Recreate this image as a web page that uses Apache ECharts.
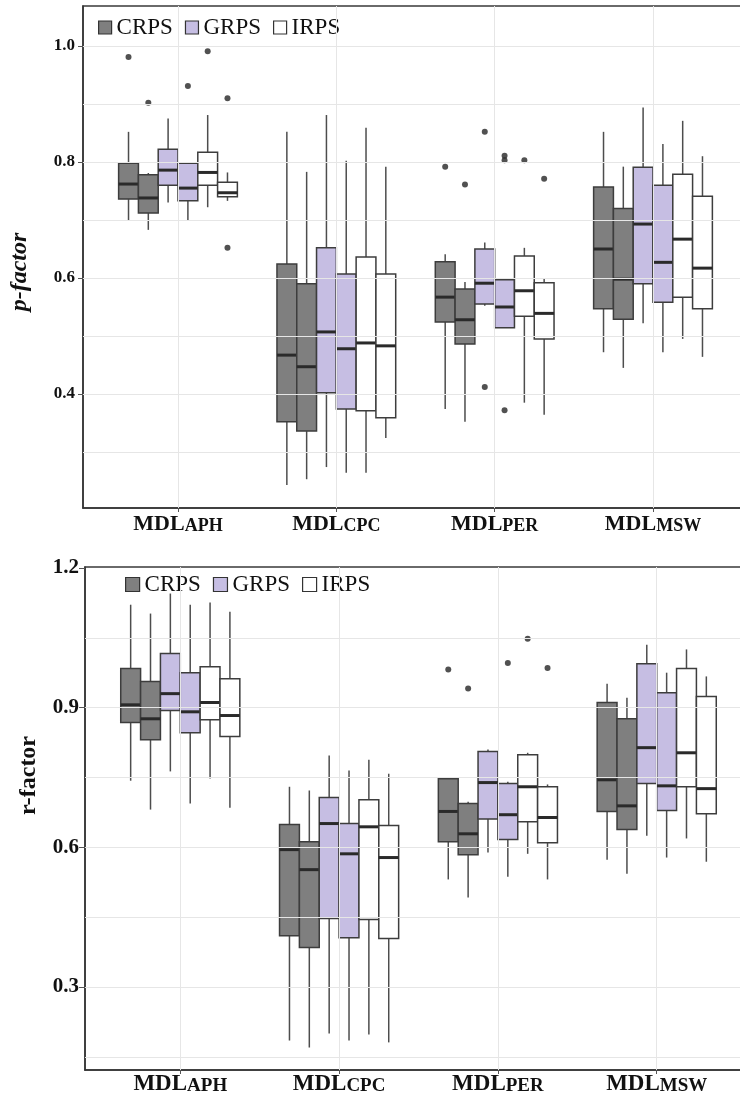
<!DOCTYPE html>
<html><head><meta charset="utf-8">
<script src="https://cdn.jsdelivr.net/npm/echarts@6/dist/echarts.min.js"></script>
<style>html,body{margin:0;padding:0;background:#fff}#c{width:740px;height:1099px}</style>
</head><body><div id="c"></div>
<script>
// ---------------- DATA ----------------
const categories = ['APH', 'CPC', 'PER', 'MSW'];
const schemes = ['CRPS', 'GRPS', 'IRPS'];

// p-factor box statistics per category: [lower whisker, Q1, median, Q3, upper whisker]
const pCRPS1 = [[0.700,0.736,0.762,0.798,0.852],[0.243,0.352,0.467,0.624,0.852],[0.374,0.524,0.567,0.628,0.641],[0.472,0.547,0.650,0.757,0.852]];
const pCRPS2 = [[0.683,0.712,0.738,0.778,0.781],[0.253,0.336,0.447,0.590,0.783],[0.352,0.486,0.528,0.581,0.593],[0.445,0.529,0.598,0.720,0.792]];
const pGRPS1 = [[0.730,0.760,0.786,0.822,0.875],[0.274,0.402,0.507,0.652,0.881],[0.552,0.555,0.591,0.650,0.661],[0.522,0.590,0.693,0.791,0.894]];
const pGRPS2 = [[0.700,0.733,0.755,0.798,0.800],[0.264,0.374,0.478,0.607,0.802],[0.514,0.514,0.550,0.597,0.600],[0.472,0.558,0.627,0.760,0.831]];
const pIRPS1 = [[0.722,0.760,0.782,0.817,0.881],[0.264,0.371,0.488,0.636,0.859],[0.385,0.534,0.578,0.638,0.652],[0.495,0.567,0.667,0.779,0.871]];
const pIRPS2 = [[0.733,0.740,0.747,0.765,0.782],[0.324,0.359,0.483,0.607,0.792],[0.364,0.495,0.539,0.592,0.600],[0.464,0.547,0.617,0.741,0.810]];
// p-factor outliers: [category index, box index (0..5), value]
const pOutliers = [[0,0,0.981],[0,1,0.902],[0,3,0.931],[0,4,0.991],[0,5,0.910],[0,5,0.652],
  [2,0,0.792],[2,1,0.761],[2,2,0.852],[2,2,0.412],[2,3,0.811],[2,3,0.803],[2,3,0.372],[2,4,0.803],[2,5,0.771]];

// r-factor box statistics
const rCRPS1 = [[0.743,0.868,0.906,0.984,1.121],[0.185,0.410,0.595,0.649,0.730],[0.531,0.612,0.677,0.747,0.750],[0.573,0.677,0.745,0.911,0.951]];
const rCRPS2 = [[0.681,0.831,0.876,0.956,1.102],[0.170,0.385,0.552,0.612,0.722],[0.492,0.584,0.629,0.694,0.698],[0.543,0.638,0.689,0.876,0.921]];
const rGRPS1 = [[0.763,0.894,0.930,1.016,1.145],[0.200,0.447,0.651,0.707,0.797],[0.589,0.661,0.739,0.806,0.810],[0.625,0.737,0.814,0.994,1.035]];
const rGRPS2 = [[0.694,0.846,0.891,0.975,1.121],[0.185,0.406,0.586,0.651,0.765],[0.537,0.617,0.670,0.737,0.741],[0.578,0.679,0.732,0.932,0.975]];
const rIRPS1 = [[0.748,0.874,0.911,0.988,1.126],[0.198,0.445,0.644,0.702,0.788],[0.586,0.655,0.730,0.799,0.803],[0.619,0.730,0.803,0.984,1.025]];
const rIRPS2 = [[0.685,0.838,0.883,0.962,1.106],[0.181,0.404,0.578,0.647,0.758],[0.531,0.610,0.664,0.730,0.735],[0.569,0.672,0.726,0.924,0.967]];
const rOutliers = [[2,0,0.982],[2,1,0.941],[2,3,0.996],[2,4,1.048],[2,5,0.985]];

// axis ticks
const pTicks = [0.4, 0.6, 0.8, 1.0];
const pGrid = [0.3, 0.4, 0.5, 0.6, 0.7, 0.8, 0.9, 1.0];
const rTicks = [0.3, 0.6, 0.9, 1.2];
const rGrid = [0.15, 0.3, 0.45, 0.6, 0.75, 0.9, 1.05];

// ---------------- STYLE / LAYOUT ----------------
const SERIF = '"Liberation Serif", "DejaVu Serif", serif';
const schemeColors = ['#7f7f7f', '#c6bee3', '#ffffff'];
const BOX_W = 0.125;     // dodge width per box (category units)
const CAT0 = 0.6;        // ggplot-like discrete expansion
const catPos = categories.map((c, i) => i + CAT0);
function boxX(cat, k) { return cat + CAT0 + (k - 2.5) * BOX_W; }

function renderBox(params, api) {
  const x = api.value(0);
  const lo = api.coord([x, api.value(1)]);
  const q1 = api.coord([x, api.value(2)]);
  const md = api.coord([x, api.value(3)]);
  const q3 = api.coord([x, api.value(4)]);
  const hi = api.coord([x, api.value(5)]);
  const w = api.size([BOX_W, 0])[0];
  const cx = lo[0];
  const fill = api.visual('color');
  return {
    type: 'group',
    children: [
      { type: 'line', shape: { x1: cx, y1: hi[1], x2: cx, y2: q3[1] }, style: { stroke: '#4d4d4d', lineWidth: 1.5 } },
      { type: 'line', shape: { x1: cx, y1: q1[1], x2: cx, y2: lo[1] }, style: { stroke: '#4d4d4d', lineWidth: 1.5 } },
      { type: 'rect', shape: { x: cx - w / 2, y: q3[1], width: w, height: q1[1] - q3[1] }, style: { fill: fill, stroke: '#3d3d3d', lineWidth: 1.5 } },
      { type: 'line', shape: { x1: cx - w / 2, y1: md[1], x2: cx + w / 2, y2: md[1] }, style: { stroke: '#2a2a2a', lineWidth: 3 } }
    ]
  };
}

function boxSeries(stats, k, g) {
  const s = Math.floor(k / 2);
  return {
    type: 'custom', name: schemes[s], xAxisIndex: g, yAxisIndex: g, z: 3,
    itemStyle: { color: schemeColors[s] },
    renderItem: renderBox,
    encode: { x: 0, y: [1, 2, 3, 4, 5] },
    data: stats.map((v, i) => [boxX(i, k)].concat(v)),
    silent: true
  };
}
function outlierSeries(list, g) {
  return {
    type: 'scatter', xAxisIndex: g, yAxisIndex: g, z: 4, silent: true,
    symbolSize: 6, itemStyle: { color: '#262626' },
    data: list.map(o => [boxX(o[0], o[1]), o[2]])
  };
}
function gridSeries(hLines, g) {
  return {
    type: 'line', xAxisIndex: g, yAxisIndex: g, z: 1, data: [], silent: true,
    markLine: {
      silent: true, animation: false, symbol: ['none', 'none'],
      label: { show: false }, emphasis: { disabled: true },
      lineStyle: { color: '#e6e6e6', width: 1, type: 'solid' },
      data: catPos.map(v => ({ xAxis: v })).concat(hLines.map(v => ({ yAxis: v })))
    }
  };
}
function xAxis(g, a, b, margin) {
  return {
    type: 'value', gridIndex: g, min: 0, max: 4.2,
    splitLine: { show: false },
    axisLine: { show: true, lineStyle: { color: '#333', width: 1.5 } },
    axisTick: { show: true, customValues: catPos, length: 4, lineStyle: { color: '#555' } },
    axisLabel: {
      customValues: catPos, margin: margin,
      formatter: v => '{a|MDL}{b|' + categories[Math.round(v - CAT0)] + '}',
      rich: {
        a: { fontFamily: SERIF, fontWeight: 'bold', fontSize: a, color: '#111', verticalAlign: 'bottom' },
        b: { fontFamily: SERIF, fontWeight: 'bold', fontSize: b, color: '#111', verticalAlign: 'bottom' }
      }
    }
  };
}
function legend(left, top, size, font) {
  return {
    left: left, top: top, itemWidth: size, itemHeight: size, itemGap: 12, selectedMode: false,
    textStyle: { fontFamily: SERIF, fontSize: font, color: '#111' },
    data: schemes.map((n, i) => ({ name: n, icon: 'rect', itemStyle: { color: schemeColors[i], borderColor: '#333', borderWidth: 1.2 } }))
  };
}

const option = {
  animation: false,
  backgroundColor: '#fff',
  grid: [
    { left: 83, top: 6, width: 665, height: 502, outerBoundsMode: 'none', containLabel: false, show: true, borderColor: '#3a3a3a', borderWidth: 1.5, backgroundColor: 'transparent' },
    { left: 85, top: 567, width: 667, height: 503, outerBoundsMode: 'none', containLabel: false, show: true, borderColor: '#3a3a3a', borderWidth: 1.5, backgroundColor: 'transparent' }
  ],
  legend: [legend(93, 11, 13, 23), legend(120, 568, 14, 23)],
  xAxis: [xAxis(0, 22, 18, 5), xAxis(1, 23, 19, 3)],
  yAxis: [
    {
      type: 'value', gridIndex: 0, min: 0.2034, max: 1.069,
      splitLine: { show: false },
      axisLine: { show: true, lineStyle: { color: '#333', width: 1.5 } },
      axisTick: { show: true, customValues: pTicks, length: 5, lineStyle: { color: '#555' } },
      axisLabel: { customValues: pTicks, formatter: v => v.toFixed(1), fontFamily: SERIF, fontWeight: 'bold', fontSize: 17, color: '#111', margin: 8 },
      name: 'p-factor', nameLocation: 'middle', nameGap: 51,
      nameTextStyle: { fontFamily: SERIF, fontStyle: 'italic', fontWeight: 'bold', fontSize: 24, color: '#111', padding: [0, 30, 0, 0] }
    },
    {
      type: 'value', gridIndex: 1, min: 0.1217, max: 1.202,
      splitLine: { show: false },
      axisLine: { show: true, lineStyle: { color: '#333', width: 1.5 } },
      axisTick: { show: true, customValues: rTicks, length: 6, lineStyle: { color: '#555' } },
      axisLabel: { customValues: rTicks, formatter: v => v.toFixed(1), fontFamily: SERIF, fontWeight: 'bold', fontSize: 21, color: '#111', margin: 6 },
      name: 'r-factor', nameLocation: 'middle', nameGap: 44,
      nameTextStyle: { fontFamily: SERIF, fontWeight: 'bold', fontSize: 24, color: '#111', padding: [0, 0, 0, 86] }
    }
  ],
  series: [
    gridSeries(pGrid, 0), gridSeries(rGrid, 1),
    boxSeries(pCRPS1, 0, 0), boxSeries(pCRPS2, 1, 0), boxSeries(pGRPS1, 2, 0),
    boxSeries(pGRPS2, 3, 0), boxSeries(pIRPS1, 4, 0), boxSeries(pIRPS2, 5, 0),
    outlierSeries(pOutliers, 0),
    boxSeries(rCRPS1, 0, 1), boxSeries(rCRPS2, 1, 1), boxSeries(rGRPS1, 2, 1),
    boxSeries(rGRPS2, 3, 1), boxSeries(rIRPS1, 4, 1), boxSeries(rIRPS2, 5, 1),
    outlierSeries(rOutliers, 1)
  ]
};
const chart = echarts.init(document.getElementById('c'));
chart.setOption(option);
</script></body></html>
